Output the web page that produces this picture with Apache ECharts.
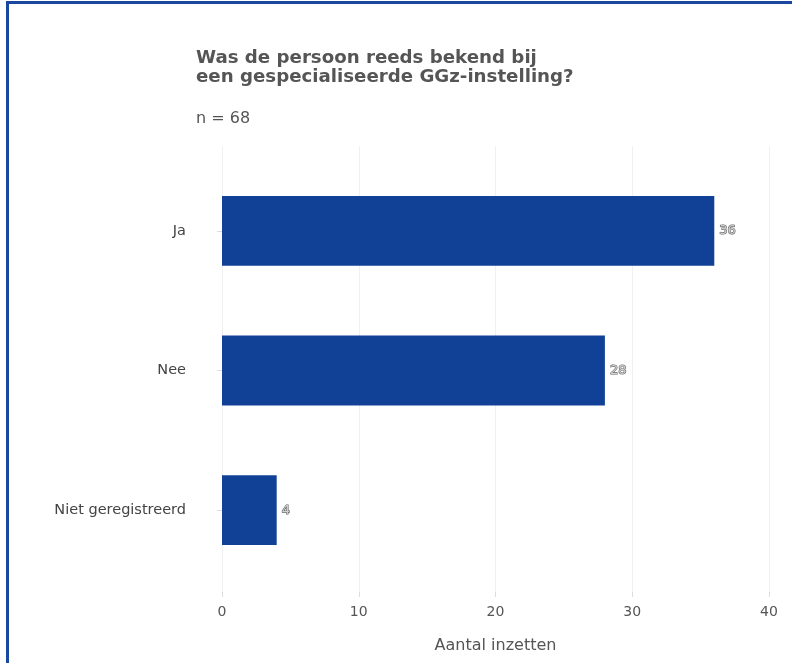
<!DOCTYPE html>
<html>
<head>
<meta charset="utf-8">
<script src="https://cdn.jsdelivr.net/npm/echarts@6/dist/echarts.min.js"></script>
<style>
html,body{margin:0;padding:0;background:#fff;overflow:hidden;}
#chart{position:absolute;left:0;top:0;width:792px;height:663px;}
#frame{position:absolute;left:6px;top:1px;width:1000px;height:1000px;border-left:3px solid #1a47a0;border-top:3px solid #1a47a0;pointer-events:none;}
</style>
</head>
<body>
<div id="chart"></div>
<div id="frame"></div>
<script>
const categories = ['Ja', 'Nee', 'Niet geregistreerd'];
const values = [36, 28, 4];
const xTicks = [0, 10, 20, 30, 40];
const titleText = 'Was de persoon reeds bekend bij\neen gespecialiseerde GGz-instelling?';
const subtitleText = 'n = 68';
const xAxisName = 'Aantal inzetten';

const xMin = xTicks[0], xMax = xTicks[xTicks.length - 1];

const chart = echarts.init(document.getElementById('chart'), null, {renderer: 'canvas'});
chart.setOption({
  animation: false,
  backgroundColor: '#fff',
  textStyle: {fontFamily: 'DejaVu Sans'},
  title: [
    {text: titleText, left: 191, top: 44,
     textStyle: {fontFamily: 'DejaVu Sans', fontSize: 18.2, fontWeight: 'bold', color: '#555', lineHeight: 19}},
    {text: subtitleText, left: 191, top: 106,
     textStyle: {fontFamily: 'DejaVu Sans', fontSize: 16, fontWeight: 'normal', color: '#555'}}
  ],
  grid: [
    {left: 222, right: 23, top: 161, bottom: 83, containLabel: false},
    {left: 222, right: 23, top: 146, bottom: 71, containLabel: false}
  ],
  xAxis: [
    {gridIndex: 0, type: 'value', min: xMin, max: xMax, interval: 10,
     axisLine: {show: false}, axisTick: {show: false}, axisLabel: {show: false}, splitLine: {show: false}},
    {gridIndex: 1, type: 'value', min: xMin, max: xMax, interval: 10,
     name: xAxisName, nameLocation: 'middle', nameGap: 46,
     nameTextStyle: {fontFamily: 'DejaVu Sans', fontSize: 16, color: '#555'},
     axisLine: {show: false},
     axisTick: {show: true, length: 5, lineStyle: {color: '#dcdcdc'}},
     axisLabel: {fontFamily: 'DejaVu Sans', fontSize: 14, color: '#555', margin: 13},
     splitLine: {show: true, lineStyle: {color: '#f0f0f0', width: 1}}}
  ],
  yAxis: [
    {gridIndex: 0, type: 'category', data: categories, inverse: true, offset: 27,
     axisLine: {show: false},
     axisTick: {show: true, length: 5, alignWithLabel: true, lineStyle: {color: '#dcdcdc'}},
     axisLabel: {fontFamily: 'DejaVu Sans', fontSize: 14.5, color: '#444', margin: 9}},
    {gridIndex: 1, type: 'value', show: false, min: 0, max: 1, splitLine: {show: false}}
  ],
  series: [{
    type: 'bar',
    xAxisIndex: 0, yAxisIndex: 0,
    data: values,
    barWidth: '50%',
    itemStyle: {color: '#114196'},
    label: {
      show: true, position: 'right', distance: 5,
      fontFamily: 'DejaVu Sans', fontSize: 13,
      color: '#d0d0d0', textBorderColor: '#666', textBorderWidth: 1.2
    }
  }]
});
</script>
</body>
</html>
